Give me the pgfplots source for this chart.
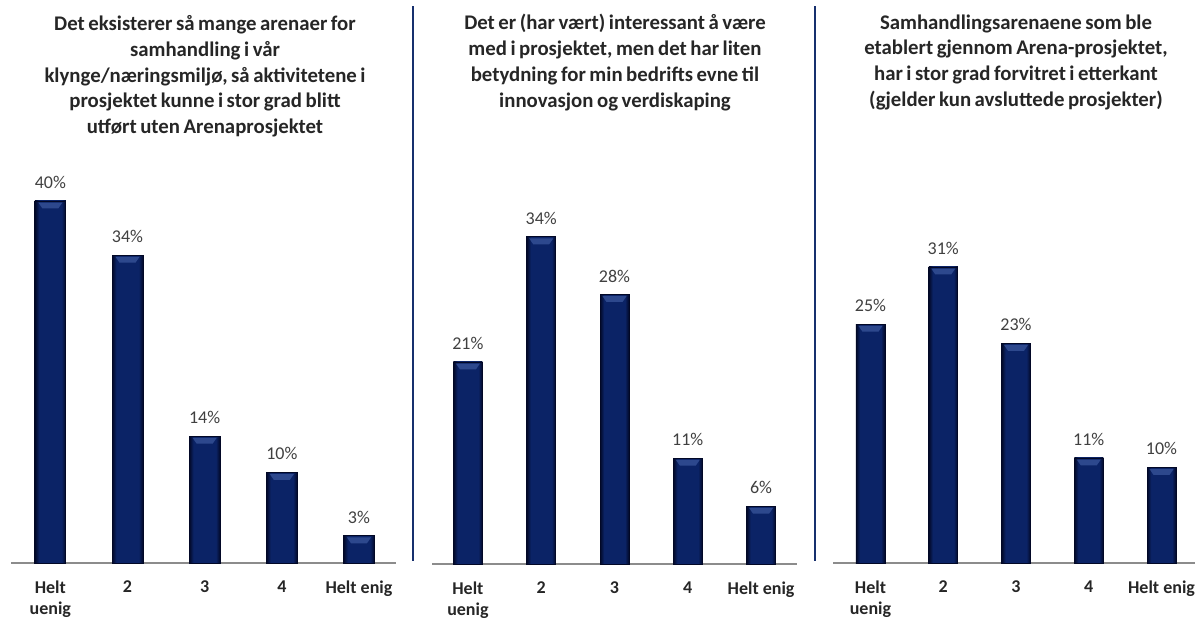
\documentclass[border=0pt]{standalone}
\usepackage{pgfplots}
\pgfplotsset{compat=1.18}
\usepackage{fontspec}
\setmainfont{Carlito}

% one pixel of the layout grid
\def\px{0.5pt}

\definecolor{barMid}{HTML}{0B2366}
\definecolor{barEdge}{HTML}{020826}
\definecolor{barTop}{HTML}{4A68AE}
\definecolor{rule}{HTML}{17306E}
\definecolor{axisgray}{HTML}{8C8C8C}
\definecolor{labelgray}{HTML}{404040}
\definecolor{titlecol}{HTML}{262626}

% title font: bold, with narrow word spaces
\newcommand\titlefont{\fontsize{10.4}{12.9}\selectfont\bfseries
  \spaceskip=0.17em plus 0.05em\relax}

% bars: dark rims, navy body
\pgfdeclarehorizontalshading{barshade}{100bp}{%
  color(0bp)=(barEdge); color(25bp)=(barEdge); color(32bp)=(barMid);
  color(68bp)=(barMid); color(75bp)=(barEdge); color(100bp)=(barEdge)}

% light bevel just below the top of each bar
\pgfdeclareplotmark{bevel}{%
  \pgfpathmoveto{\pgfpoint{-6pt}{-0.8pt}}%
  \pgfpathlineto{\pgfpoint{6pt}{-0.8pt}}%
  \pgfpathlineto{\pgfpoint{4pt}{-3.7pt}}%
  \pgfpathlineto{\pgfpoint{-4pt}{-3.7pt}}%
  \pgfpathclose
  \pgfusepathqfill}

\pgfplotstableread{
x y
0 40
1 34
2 14
3 10
4 3
}\panelA
\pgfplotstableread{
x y
0 21
1 34
2 28
3 11
4 6
}\panelB
\pgfplotstableread{
x y
0 25
1 31
2 23
3 11
4 10
}\panelC

\pgfplotsset{
  likert/.style={
    scale only axis,
    anchor=south west,
    height=420*\px,
    ymin=0,
    axis x line=bottom,
    axis y line=none,
    axis line style={-, draw=axisgray, line width=0.7pt},
    xtick={0,1,2,3,4},
    xticklabels={{Helt\\uenig},2,3,4,Helt enig},
    major tick length=0pt,
    xticklabel style={align=center, anchor=north, yshift=-5.5pt,
      font=\fontsize{9}{10.5}\selectfont\bfseries, text=titlecol},
    ytick=\empty,
    clip=false,
    /pgf/number format/assume math mode=true,
  },
  likertbars/.style={
    ybar, bar width=#1, bar shift=0pt,
    shading=barshade, draw=barEdge, line width=0.4pt,
    mark=bevel, mark options={fill=barTop, fill opacity=0.55, draw=none},
    nodes near coords={\pgfmathprintnumber[fixed,precision=0]{\pgfplotspointmeta}\%},
    every node near coord/.append style={font=\fontsize{9}{10}\selectfont,
      text=labelgray, fill opacity=1, text opacity=1,
      anchor=south, inner sep=0pt, yshift=6pt},
  },
}

\begin{document}
\begin{tikzpicture}
\useasboundingbox (0,0) rectangle (1195*\px,-618*\px);

% panel dividers
\draw[rule, line width=1.1pt] (413*\px,-6*\px) -- (413*\px,-561*\px);
\draw[rule, line width=1.1pt] (815*\px,-6*\px) -- (815*\px,-561*\px);

% titles
\begin{scope}[every node/.style={anchor=north, align=center, inner sep=0pt,
    font=\titlefont, text=titlecol}]
\node at (205*\px,-15*\px) {Det eksisterer så mange arenaer for\\
  samhandling i vår\\
  klynge/næringsmiljø, så aktivitetene i\\
  prosjektet kunne i stor grad blitt\\
  utført uten Arenaprosjektet};
\node at (615*\px,-14*\px) {Det er (har vært) interessant å være\\
  med i prosjektet, men det har liten\\
  betydning for min bedrifts evne til\\
  innovasjon og verdiskaping};
\node at (1016*\px,-14*\px) {Samhandlingsarenaene som ble\\
  etablert gjennom Arena-prosjektet,\\
  har i stor grad forvitret i etterkant\\
  (gjelder kun avsluttede prosjekter)};
\end{scope}

% each bar is its own plot so that every bar gets its own shading
\begin{axis}[likert, at={(11*\px,-563*\px)}, width=385*\px,
    xmin=-0.51, xmax=4.48, ymax=46.4]
  \pgfplotsinvokeforeach{0,...,4}{%
    \addplot[likertbars=15.5pt, restrict x to domain=#1:#1]
      table[x=x, y=y] {\panelA};}
\end{axis}

\begin{axis}[likert, at={(432*\px,-564*\px)}, width=365*\px,
    xmin=-0.49, xmax=4.49, ymax=43.65]
  \pgfplotsinvokeforeach{0,...,4}{%
    \addplot[likertbars=14.5pt, restrict x to domain=#1:#1]
      table[x=x, y=y] {\panelB};}
\end{axis}

\begin{axis}[likert, at={(833*\px,-563*\px)}, width=362*\px,
    xmin=-0.515, xmax=4.46, ymax=43.98]
  \pgfplotsinvokeforeach{0,...,4}{%
    \addplot[likertbars=14.5pt, restrict x to domain=#1:#1]
      table[x=x, y=y] {\panelC};}
\end{axis}
\end{tikzpicture}
\end{document}
